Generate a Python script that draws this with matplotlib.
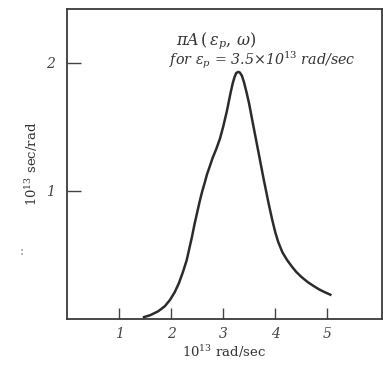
import matplotlib
matplotlib.use('Agg')
import matplotlib.pyplot as plt

# curve (x in 10^13 rad/sec, y in 10^13 sec/rad)
omega = [1.48, 1.6, 1.75, 1.88, 1.98, 2.07, 2.15, 2.23, 2.3, 2.35, 2.4, 2.45, 2.5, 2.55,
         2.6, 2.65, 2.69, 2.75, 2.8, 2.87, 2.94, 3.0, 3.07, 3.11, 3.15, 3.19, 3.22, 3.25,
         3.29, 3.32, 3.36, 3.4, 3.45, 3.5, 3.58, 3.68, 3.77, 3.87, 3.94, 4.0, 4.06,
         4.14, 4.23, 4.32, 4.4, 4.5, 4.62, 4.73, 4.85, 4.95, 5.06]
A = [0.015, 0.03, 0.06, 0.1, 0.15, 0.21, 0.28, 0.37, 0.46, 0.55, 0.64, 0.74, 0.83, 0.92,
     1.0, 1.07, 1.13, 1.2, 1.26, 1.33, 1.41, 1.5, 1.62, 1.7, 1.78, 1.85, 1.89, 1.92,
     1.93, 1.925, 1.9, 1.85, 1.77, 1.68, 1.51, 1.3, 1.11, 0.91, 0.78, 0.68, 0.6,
     0.52, 0.46, 0.41, 0.37, 0.33, 0.29, 0.26, 0.23, 0.21, 0.19]

xticks = [1, 2, 3, 4, 5]
yticks = [1, 2]

plt.rcParams['font.family'] = 'DejaVu Serif'
plt.rcParams['mathtext.fontset'] = 'dejavuserif'

fig = plt.figure(figsize=(3.83, 3.65), dpi=100)
ax = fig.add_axes([0.175, 0.126, 0.822, 0.849])

ax.plot(omega, A, color='#2b2b2b', lw=1.8, solid_joinstyle='round')

ax.set_xlim(0, 6.05)
ax.set_ylim(0, 2.42)
ax.set_xticks(xticks)
ax.set_yticks(yticks)
ax.set_xticklabels([str(t) for t in xticks], style='italic', fontsize=10, color='#333333')
ax.set_yticklabels([str(t) for t in yticks], style='italic', fontsize=10, color='#333333')
ax.tick_params(axis='x', direction='in', length=8, width=1, colors='#444444', pad=6)
ax.tick_params(axis='y', direction='in', length=10, width=1, colors='#444444', pad=9)
for s in ax.spines.values():
    s.set_color('#3a3a3a')
    s.set_linewidth(1.3)

ax.set_xlabel(r'$\mathit{10^{13}}$ rad/sec', fontsize=9.5, color='#333333', labelpad=1)
ax.set_ylabel(r'$\mathit{10^{13}}$ sec/rad', fontsize=9.5, color='#333333', labelpad=4)
fig.text(0.058, 0.31, ':', fontsize=9, color='#777777', ha='center', va='center')

ax.text(0.345, 0.885, r'$\pi A\,(\,\epsilon_p,\,\omega)$', transform=ax.transAxes,
        fontsize=11.5, color='#333333', style='italic')
ax.text(0.325, 0.82, r'for $\epsilon_p$ = 3.5$\times$10$^{13}$ rad/sec', transform=ax.transAxes,
        fontsize=10.3, color='#333333', style='italic')

fig.savefig('out.png', dpi=100)
